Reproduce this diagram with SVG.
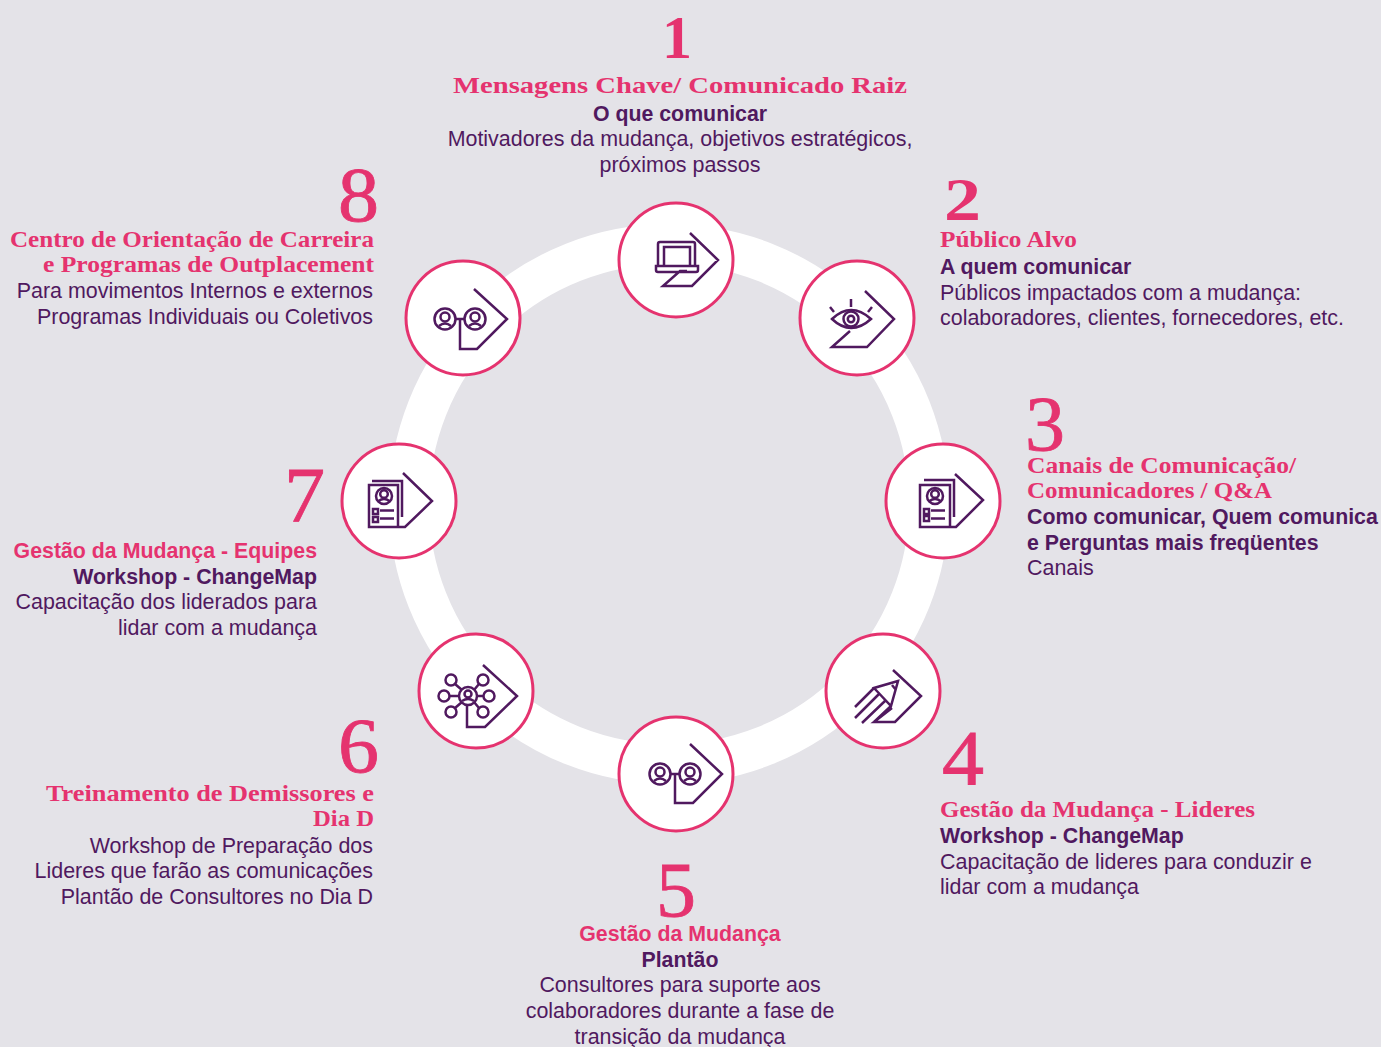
<svg xmlns="http://www.w3.org/2000/svg" width="1381" height="1047" viewBox="0 0 1381 1047">
<style>
.n{font-family:"Liberation Serif","Times New Roman",serif;font-size:78px;fill:#e5336f;stroke:#e5336f;stroke-width:.8}
.s{font-size:61px;font-weight:700;stroke:none}
.t{font-family:"Liberation Serif","Times New Roman",serif;font-size:23.500px;font-weight:700;fill:#e5336f}
.p{font-family:"Liberation Sans",Arial,sans-serif;font-size:21.340px;font-weight:700;fill:#e5336f}
.b{font-family:"Liberation Sans",Arial,sans-serif;font-size:21.340px;font-weight:700;fill:#50195f}
.r{font-family:"Liberation Sans",Arial,sans-serif;font-size:21.440px;fill:#50195f}
.m{text-anchor:middle}.e{text-anchor:end}
.c{fill:#fff;stroke:#e5336f;stroke-width:3}
.i{fill:none;stroke:#50195f;stroke-width:2.500}
</style>
<rect width="1381" height="1047" fill="#e4e3e8"/>
<g id="connectors"><circle cx="669" cy="504" r="260" fill="none" stroke="#fff" stroke-width="40"/></g>

<g id="node1">
<circle class="c" cx="676" cy="260" r="57"/>
<g class="i"><path d="M690 233L718 260L692 286H663L680 271H687M658 265V244Q658 242 660 242H693Q695 242 695 244V265M664 265V247H690V265M656 266H698V270Q698 272 696 272H658Q656 272 656 270Z"/></g>
<text class="n s m" x="677" y="58" textLength="30" lengthAdjust="spacingAndGlyphs">1</text>
<text class="t m" x="680" y="93" textLength="454" lengthAdjust="spacingAndGlyphs">Mensagens Chave/ Comunicado Raiz</text>
<text class="b m" x="680" y="121">O que comunicar</text>
<text class="r m" x="680" y="146">Motivadores da mudança, objetivos estratégicos,</text>
<text class="r m" x="680" y="172">próximos passos</text>
</g>

<g id="node2">
<circle class="c" cx="857" cy="318" r="57"/>
<g class="i"><path d="M865 291L894 319L867 347H832L850 331M832 319Q851 301 871 319Q851 337 832 319Z"/><circle cx="851" cy="319" r="7.500"/><circle cx="851" cy="319" r="3.200"/><path d="M851 299V307M830 307L834 312M872 307L868 312"/></g>
<text class="n s" x="944" y="220" textLength="37" lengthAdjust="spacingAndGlyphs">2</text>
<text class="t" x="940" y="247" textLength="137" lengthAdjust="spacingAndGlyphs">Público Alvo</text>
<text class="b" x="940" y="274">A quem comunicar</text>
<text class="r" x="940" y="300">Públicos impactados com a mudança:</text>
<text class="r" x="940" y="325">colaboradores, clientes, fornecedores, etc.</text>
</g>

<g id="node3">
<circle class="c" cx="943" cy="501" r="57"/>
<g class="i"><path d="M955 474L983 500L956 527H920V485H950V527M924 480H954V517"/><circle cx="935" cy="496" r="8"/><circle cx="935" cy="494" r="3.800"/><path d="M929.500 501Q935 497 940.500 501"/><path d="M924 509H929V514H924ZM924 516H929V521H924ZM931 510.500H945M931 518.500H945"/></g>
<text class="n" x="1025" y="450" textLength="40" lengthAdjust="spacingAndGlyphs">3</text>
<text class="t" x="1027" y="473" textLength="269" lengthAdjust="spacingAndGlyphs">Canais de Comunicação/</text>
<text class="t" x="1027" y="498" textLength="245" lengthAdjust="spacingAndGlyphs">Comunicadores / Q&amp;A</text>
<text class="b" x="1027" y="524">Como comunicar, Quem comunica</text>
<text class="b" x="1027" y="550">e Perguntas mais freqüentes</text>
<text class="r" x="1027" y="575">Canais</text>
</g>

<g id="node4">
<circle class="c" cx="883" cy="691" r="57"/>
<g class="i"><path d="M893 670L921 696L895 722H874L892 708M898 681L874 688L891 706ZM892 685L896 690M874 688L855 707M879 694L855 718M886 700L862 723M891 706L874 722"/></g>
<text class="n" x="942" y="784" textLength="42" lengthAdjust="spacingAndGlyphs">4</text>
<text class="t" x="940" y="817" textLength="315" lengthAdjust="spacingAndGlyphs">Gestão da Mudança - Lideres</text>
<text class="b" x="940" y="843">Workshop - ChangeMap</text>
<text class="r" x="940" y="869">Capacitação de lideres para conduzir e</text>
<text class="r" x="940" y="894">lidar com a mudança</text>
</g>

<g id="node5">
<circle class="c" cx="676" cy="774" r="57"/>
<g class="i"><path d="M690 744L722 774L693 803H675V774M671 774H680"/><circle cx="660" cy="774" r="10.500"/><circle cx="660" cy="772" r="4.500"/><path d="M654 781Q660 776 666 781"/><circle cx="690" cy="774" r="10.500"/><circle cx="690" cy="772" r="4.500"/><path d="M684 781Q690 776 696 781"/></g>
<text class="n" x="656" y="916" textLength="40" lengthAdjust="spacingAndGlyphs">5</text>
<text class="p m" x="680" y="941">Gestão da Mudança</text>
<text class="b m" x="680" y="967">Plantão</text>
<text class="r m" x="680" y="992">Consultores para suporte aos</text>
<text class="r m" x="680" y="1018">colaboradores durante a fase de</text>
<text class="r m" x="680" y="1044">transição da mudança</text>
</g>

<g id="node6">
<circle class="c" cx="476" cy="691" r="57"/>
<g class="i"><path d="M483 665L517 696L485 727H467V706M455 684L462 690M479 684L474 690M449.500 696H459M477 696H483.500M455 708L462 702M479 708L474 702"/><circle cx="468" cy="696" r="9"/><circle cx="468" cy="694" r="3.500"/><path d="M462 701Q468 697 474 701"/><circle cx="451" cy="680" r="5.500"/><circle cx="483" cy="680" r="5.500"/><circle cx="444" cy="696" r="5.500"/><circle cx="489" cy="696" r="5.500"/><circle cx="451" cy="712" r="5.500"/><circle cx="483" cy="712" r="5.500"/></g>
<text class="n" x="338" y="772" textLength="41" lengthAdjust="spacingAndGlyphs">6</text>
<text class="t e" x="374" y="801" textLength="328" lengthAdjust="spacingAndGlyphs">Treinamento de Demissores e</text>
<text class="t e" x="374" y="826" textLength="61" lengthAdjust="spacingAndGlyphs">Dia D</text>
<text class="r e" x="373" y="853">Workshop de Preparação dos</text>
<text class="r e" x="373" y="878">Lideres que farão as comunicações</text>
<text class="r e" x="373" y="904">Plantão de Consultores no Dia D</text>
</g>

<g id="node7">
<circle class="c" cx="399" cy="501" r="57"/>
<g class="i"><path d="M403 473L432 501L405 527H369V485H398V527M372 481H402V517"/><circle cx="384" cy="496" r="8"/><circle cx="384" cy="494" r="3.800"/><path d="M378.500 501Q384 497 389.500 501"/><path d="M373 509H378V514H373ZM373 517H378V522H373ZM380 510.500H394M380 518.500H394"/></g>
<text class="n" x="284" y="521" textLength="41" lengthAdjust="spacingAndGlyphs">7</text>
<text class="p e" x="317" y="558">Gestão da Mudança - Equipes</text>
<text class="b e" x="317" y="584">Workshop - ChangeMap</text>
<text class="r e" x="317" y="609">Capacitação dos liderados para</text>
<text class="r e" x="317" y="635">lidar com a mudança</text>
</g>

<g id="node8">
<circle class="c" cx="463" cy="318" r="57"/>
<g class="i"><path d="M474 289L507 319L477 349H460V319M456 319H465"/><circle cx="445" cy="319" r="10.500"/><circle cx="445" cy="317" r="4.500"/><path d="M439 326Q445 321 451 326"/><circle cx="475" cy="319" r="10.500"/><circle cx="475" cy="317" r="4.500"/><path d="M469 326Q475 321 481 326"/></g>
<text class="n" x="338" y="221" textLength="41" lengthAdjust="spacingAndGlyphs">8</text>
<text class="t e" x="374" y="247" textLength="364" lengthAdjust="spacingAndGlyphs">Centro de Orientação de Carreira</text>
<text class="t e" x="374" y="272" textLength="331" lengthAdjust="spacingAndGlyphs">e Programas de Outplacement</text>
<text class="r e" x="373" y="298">Para movimentos Internos e externos</text>
<text class="r e" x="373" y="324">Programas Individuais ou Coletivos</text>
</g>
</svg>
